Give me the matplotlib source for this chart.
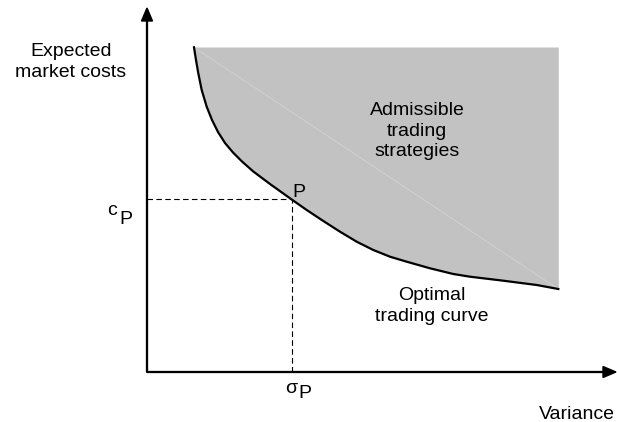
import numpy as np
import matplotlib
matplotlib.use("Agg")
import matplotlib.pyplot as plt

plt.rcParams['font.family'] = ['Liberation Sans', 'DejaVu Sans']

# efficient frontier (variance, expected cost)
variance = [47, 49, 51.3, 54.7, 59.7, 65, 71, 78, 86, 95, 106.3, 123, 144.7, 159.7,
            176.3, 193, 209.7, 226.3, 243, 259.7, 283, 306.3, 323, 356.3, 389.7, 411.3]
cost = [324.7, 312, 298.7, 282, 265.3, 252, 240, 229, 219.5, 210.5, 200.5, 188, 172.5, 162,
        151, 140.3, 130.3, 122, 115.3, 110.3, 103.7, 98, 95.3, 91.3, 87, 83]
cost_top = 325
sigma_p, c_p = 144.7, 172.6

fig = plt.figure(figsize=(6.17, 4.22), dpi=100)
ax = fig.add_axes([0, 0, 1, 1])
ax.set_xlim(-147, 470)
ax.set_ylim(-50, 372)
ax.axis('off')

# admissible region above the curve
ax.fill_between(variance, cost, cost_top, color='#c2c2c2', lw=0)
ax.plot([variance[0], variance[-1]], [cost[0], cost[-1]], color='#d2d2d2', lw=0.6)
ax.plot(variance, cost, color='black', lw=1.6, solid_joinstyle='round')

# dashed guides to P
ax.plot([0, sigma_p], [c_p, c_p], color='black', lw=0.8, ls=(0, (5, 3)))
ax.plot([sigma_p, sigma_p], [0, c_p], color='black', lw=0.8, ls=(0, (5, 3)))

# axes with arrows
ax.arrow(0, 0, 0, 364, width=0.9, head_width=11, head_length=13,
         length_includes_head=True, color='black')
ax.arrow(0, 0, 469, 0, width=0.9, head_width=11, head_length=13,
         length_includes_head=True, color='black')

fs = 14
ax.text(-76, 310, 'Expected\nmarket costs', fontsize=fs, ha='center', va='center',
        linespacing=1.25)
ax.text(-40, 157, 'c', fontsize=fs, ha='left', va='baseline')
ax.text(-28, 148, 'P', fontsize=fs, ha='left', va='baseline')
ax.text(138, -21, 'σ', fontsize=fs, ha='left', va='baseline')
ax.text(151, -26, 'P', fontsize=fs, ha='left', va='baseline')
ax.text(145, 175, 'P', fontsize=fs, ha='left', va='baseline')
ax.text(468, -47, 'Variance', fontsize=fs, ha='right', va='baseline')
ax.text(270, 241, 'Admissible\ntrading\nstrategies', fontsize=fs, ha='center',
        va='center', linespacing=1.3)
ax.text(285, 66, 'Optimal\ntrading curve', fontsize=fs, ha='center', va='center',
        linespacing=1.3)

fig.savefig('out.png', dpi=100)
